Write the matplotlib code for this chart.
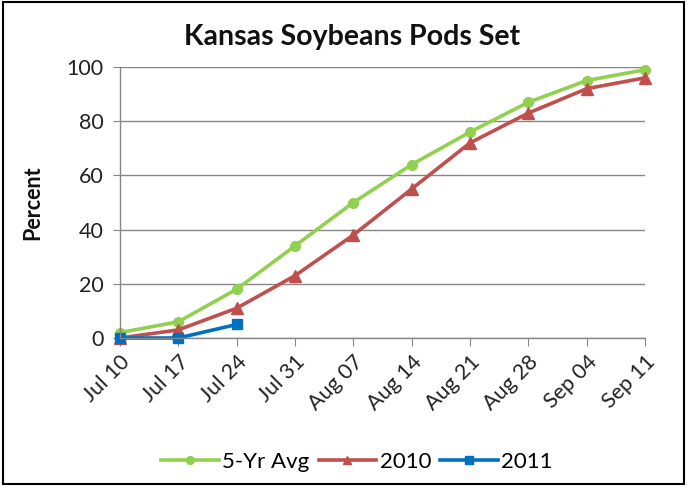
import matplotlib
matplotlib.use("Agg")
import matplotlib.pyplot as plt
from matplotlib.patches import Rectangle

plt.rcParams['font.family'] = ['Lato', 'DejaVu Sans']

weeks = ["Jul 10", "Jul 17", "Jul 24", "Jul 31", "Aug 07", "Aug 14",
         "Aug 21", "Aug 28", "Sep 04", "Sep 11"]
avg5 = [2, 6, 18, 34, 50, 64, 76, 87, 95, 99]
y2010 = [0, 3, 11, 23, 38, 55, 72, 83, 92, 96]
y2011 = [0, 0, 5]

fig = plt.figure(figsize=(6.88, 4.87), dpi=100)
ax = fig.add_axes([120/688, 1-338/487, (645-120)/688, (338-67)/487])

x = list(range(len(weeks)))
ax.plot(x, avg5, color='#92D050', marker='o', markersize=7, linewidth=2.6, label='5-Yr Avg')
ax.plot(x, y2010, color='#C0504D', marker='^', markersize=8, linewidth=2.6, label='2010')
ax.plot(x[:len(y2011)], y2011, color='#0070C0', marker='s', markersize=7, linewidth=2.6, label='2011')

ax.set_xlim(0, len(weeks) - 1)
ax.set_ylim(0, 100)
ax.set_yticks(range(0, 101, 20))
ax.set_xticks(x)
ax.set_xticklabels(weeks, rotation=45, ha='right', rotation_mode='anchor', fontsize=15.5)
ax.tick_params(axis='y', labelsize=15.5, length=5, color='#868686', direction='out', pad=7,
               labelcolor='#222222')
ax.tick_params(axis='x', length=6, color='#868686', direction='out', pad=4, labelcolor='#222222')
ax.grid(axis='y', color='#868686', linewidth=1)
ax.set_axisbelow(True)
for s in ['top', 'right']:
    ax.spines[s].set_visible(False)
for s in ['left', 'bottom']:
    ax.spines[s].set_color('#868686')
    ax.spines[s].set_linewidth(1)
for line in ax.lines:
    line.set_clip_on(False)

fig.text(33/688, 1-203/487, 'Percent', rotation=90, ha='center', va='center',
         fontsize=15.5, fontweight='bold', color='#111111')
fig.text(352/688, 1-37/487, 'Kansas Soybeans Pods Set', ha='center', va='center',
         fontsize=20.5, fontweight='bold', color='#111111')

fig.legend(loc='center', bbox_to_anchor=(357/688, 1-462/487), ncol=3, frameon=False,
           fontsize=16, handlelength=2.6, columnspacing=0.4, handletextpad=0.15,
           markerscale=0.8)

fig.patches.append(Rectangle((0.004, 0.006), 0.99, 0.99, transform=fig.transFigure,
                             fill=False, edgecolor='black', linewidth=1.5))

fig.savefig('out.png', dpi=100)
